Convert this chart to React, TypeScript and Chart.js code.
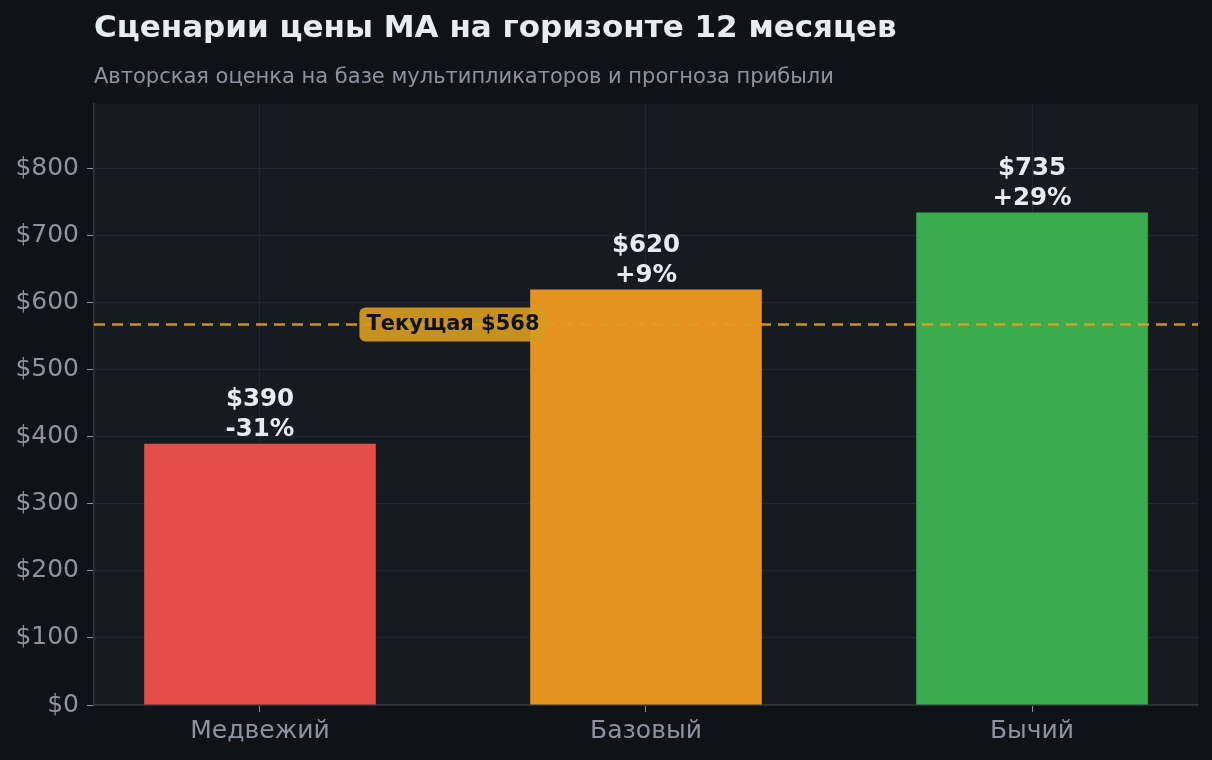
import { useEffect, useRef } from "react";
import { Chart, registerables } from "chart.js";

Chart.register(...registerables);

const scenarios = ["Медвежий", "Базовый", "Бычий"];
const targetPrices = [390, 620, 735];
const changeLabels = ["-31%", "+9%", "+29%"];
const barColors = ["#e54d48", "#e3931e", "#3bac4e"];
const currentPrice = 568;
const currentLabel = "Текущая $568";
const yTicks = [0, 100, 200, 300, 400, 500, 600, 700, 800];

const title = "Сценарии цены MA на горизонте 12 месяцев";
const subtitle = "Авторская оценка на базе мультипликаторов и прогноза прибыли";

const FONT = "'DejaVu Sans', sans-serif";

const decorPlugin = {
  id: "decor",
  beforeDraw(chart: Chart) {
    const { ctx, chartArea } = chart;
    ctx.save();
    ctx.fillStyle = "#161b22";
    ctx.fillRect(chartArea.left, chartArea.top, chartArea.right - chartArea.left, chartArea.bottom - chartArea.top);
    ctx.fillStyle = "#e6edf3";
    ctx.font = `bold 31px ${FONT}`;
    ctx.textBaseline = "middle";
    ctx.textAlign = "left";
    ctx.fillText(title, chartArea.left, 29);
    ctx.fillStyle = "#8b949e";
    ctx.font = `21px ${FONT}`;
    ctx.fillText(subtitle, chartArea.left, 78);
    ctx.restore();
  },
  afterDatasetsDraw(chart: Chart) {
    const { ctx, chartArea, scales } = chart;
    const x = scales.x;
    const y = scales.y;
    ctx.save();

    // value labels above the bars
    ctx.fillStyle = "#e6edf3";
    ctx.font = `bold 24.5px ${FONT}`;
    ctx.textAlign = "center";
    ctx.textBaseline = "middle";
    targetPrices.forEach((v, i) => {
      const px = x.getPixelForValue(i);
      const py = y.getPixelForValue(v);
      ctx.fillText(changeLabels[i], px, py - 14);
      ctx.fillText(`$${v}`, px, py - 44);
    });

    // current price line
    const ly = y.getPixelForValue(currentPrice);
    ctx.strokeStyle = "rgba(222, 160, 34, 0.9)";
    ctx.lineWidth = 2.5;
    ctx.setLineDash([11, 7]);
    ctx.beginPath();
    ctx.moveTo(chartArea.left, ly);
    ctx.lineTo(chartArea.right, ly);
    ctx.stroke();
    ctx.setLineDash([]);

    // label box
    ctx.font = `bold 21px ${FONT}`;
    const tw = ctx.measureText(currentLabel).width;
    const cx = x.getPixelForValue(0.5);
    const bw = tw + 14;
    const bh = 34;
    ctx.fillStyle = "rgba(214, 155, 30, 0.92)";
    ctx.beginPath();
    ctx.roundRect(cx - bw / 2, ly - bh / 2, bw, bh, 6);
    ctx.fill();
    ctx.fillStyle = "#0d1117";
    ctx.fillText(currentLabel, cx, ly);
    ctx.restore();
  },
};

export default function App() {
  const canvasRef = useRef<HTMLCanvasElement>(null);
  const chartRef = useRef<Chart | null>(null);

  useEffect(() => {
    document.body.style.margin = "0";
    const canvas = canvasRef.current;
    if (!canvas) return;
    if (chartRef.current) chartRef.current.destroy();

    chartRef.current = new Chart(canvas, {
      type: "bar",
      data: {
        datasets: [
          {
            data: targetPrices.map((v, i) => ({ x: i, y: v })),
            backgroundColor: barColors,
            borderWidth: 0,
            categoryPercentage: 1,
            barPercentage: 0.6,
          },
        ],
      },
      options: {
        animation: false,
        responsive: true,
        maintainAspectRatio: false,
        layout: { padding: { top: 104, right: 14, left: 0, bottom: 0 } },
        plugins: {
          legend: { display: false },
          tooltip: { enabled: false },
        },
        scales: {
          x: {
            type: "linear",
            min: -0.43,
            max: 2.43,
            offset: false,
            afterBuildTicks(scale) {
              scale.ticks = scenarios.map((_, i) => ({ value: i }));
            },
            afterFit(scale) {
              scale.height = 55;
            },
            grid: {
              color: "#222832",
              tickColor: "#8b949e",
              tickLength: 7,
              offset: false,
            },
            border: { color: "#30363d", width: 1.5 },
            ticks: {
              color: "#8b949e",
              font: { size: 25, family: FONT },
              padding: 4,
              callback(v) {
                return scenarios[Number(v)] ?? "";
              },
            },
          },
          y: {
            min: 0,
            max: 897,
            afterBuildTicks(scale) {
              scale.ticks = yTicks.map((v) => ({ value: v }));
            },
            afterFit(scale) {
              scale.width = 94;
            },
            grid: {
              color: "#222832",
              tickColor: "#8b949e",
              tickLength: 7,
            },
            border: { color: "#30363d", width: 1.5 },
            ticks: {
              color: "#8b949e",
              font: { size: 25, family: FONT },
              padding: 8,
              callback(v) {
                return `$${v}`;
              },
            },
          },
        },
      },
      plugins: [decorPlugin],
    });

    return () => {
      chartRef.current?.destroy();
      chartRef.current = null;
    };
  }, []);

  return (
    <div style={{ position: "fixed", inset: 0, width: 1212, height: 760, background: "#0f1318" }}>
      <canvas ref={canvasRef} />
    </div>
  );
}
